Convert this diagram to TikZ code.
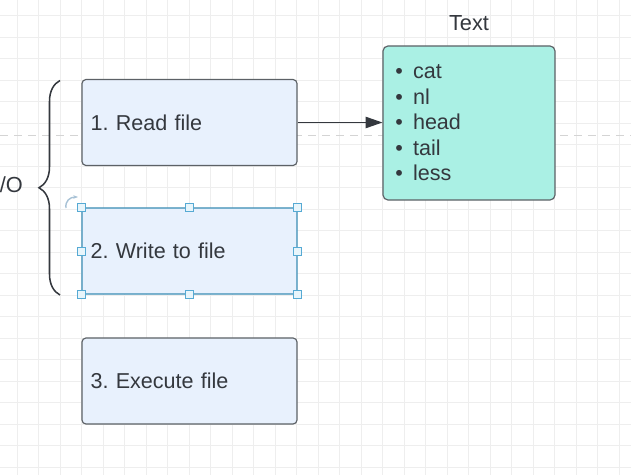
\documentclass[tikz,border=0pt]{standalone}
\usepackage{fontspec}
\setmainfont{Liberation Sans}
\usepackage{xcolor}
\usetikzlibrary{arrows.meta, positioning, decorations.pathreplacing}
\frenchspacing

\definecolor{boxblue}{RGB}{232,241,253}
\definecolor{edgegray}{RGB}{92,97,102}
\definecolor{inkgray}{RGB}{52,56,62}
\definecolor{cmdteal}{RGB}{170,240,228}
\definecolor{selblue}{RGB}{58,140,180}
\definecolor{handleblue}{RGB}{86,170,212}
\definecolor{handlefill}{RGB}{232,245,251}
\definecolor{gridgray}{RGB}{238,238,238}
\definecolor{dashgray}{RGB}{212,212,212}
\definecolor{rotgray}{RGB}{168,194,214}

\begin{document}
\begin{tikzpicture}[x=0.03cm, y=-0.03cm, >=latex]
		\tikzstyle{filebox} = [draw=edgegray, fill=boxblue, rounded corners=0.12cm, line width=1pt, minimum width=6.45cm, minimum height=2.58cm, text width=5.93cm, inner xsep=0.26cm, align=left, text=inkgray, font=\fontsize{18.4}{22}\selectfont]
		\tikzstyle{cmdbox} = [draw=edgegray, fill=cmdteal, rounded corners=0.15cm, line width=1pt, minimum width=5.16cm, minimum height=4.62cm, text width=4.41cm, inner xsep=0.375cm, align=left, text=inkgray, font=\fontsize{18.4}{21.8}\selectfont]
		\tikzstyle{caption} = [draw=none, inner sep=0, text=inkgray, font=\fontsize{18.6}{22}\selectfont]
		\tikzstyle{handle} = [draw=handleblue, fill=handlefill, line width=0.8pt, minimum size=0.24cm, inner sep=0]
		\tikzstyle{arrow} = [line width=1pt, draw=inkgray, -{Triangle[length=0.5cm, width=0.34cm]}]
		\tikzstyle{brace} = [decorate, decoration={brace, amplitude=0.63cm}, line width=1.3pt, draw=inkgray]
		\tikzstyle{gridline} = [draw=gridgray, line width=0.6pt]
		
		\useasboundingbox (0,0) rectangle (631,475);
		\clip (0,0) rectangle (631,475);
		\fill[white] (0,0) rectangle (631,475);
		
		% grid behind the diagram
		\foreach \i in {0,...,29}
			\draw[gridline] ({16.9+21.5*\i},0) -- ({16.9+21.5*\i},475);
		\foreach \j in {0,...,21}
			\draw[gridline] (0,{15.7+21.5*\j}) -- (631,{15.7+21.5*\j});
		\draw[dashgray, line width=0.8pt, dash pattern=on 0.24cm off 0.18cm] (0,135) -- (631,135);
		
		\node[filebox] 	at (189.5, 122.5)	(read) 	{1. Read file};
		\node[filebox, draw=selblue, line width=1.2pt, rounded corners=0.05cm]
						at (189.5, 251)		(write) {2. Write to file};
		\node[filebox] 	at (189.5, 381)		(exec) 	{3. Execute file};
		\node[cmdbox] 	at (469, 123)		(cmds) 	{\textbullet\hspace{0.3cm}cat\\ \textbullet\hspace{0.3cm}nl\\ \textbullet\hspace{0.3cm}head\\ \textbullet\hspace{0.3cm}tail\\ \textbullet\hspace{0.3cm}less};
		\node[caption] 	at (469, 22.7)		(title) {Text};
		\node[caption, anchor=east] at (23, 185) (io) {I/O};
		
		\coordinate (btop) at (60, 80.5);
		\coordinate (bbot) at (60, 295);
		\draw[brace] (bbot) -- (btop);
		
		\draw[arrow] (read.east) -- (read.east -| cmds.west);
		
		% selection handles
		\foreach \a in {north west, north, north east, east, south east, south, south west, west}
			\node[handle, name=h-\a] at (write.\a) {};
		\draw[rotgray, line width=1.2pt, -{Stealth[length=0.14cm]}] (66,208) .. controls (65,201) and (70,197) .. (78,197);
	\end{tikzpicture}
\end{document}
